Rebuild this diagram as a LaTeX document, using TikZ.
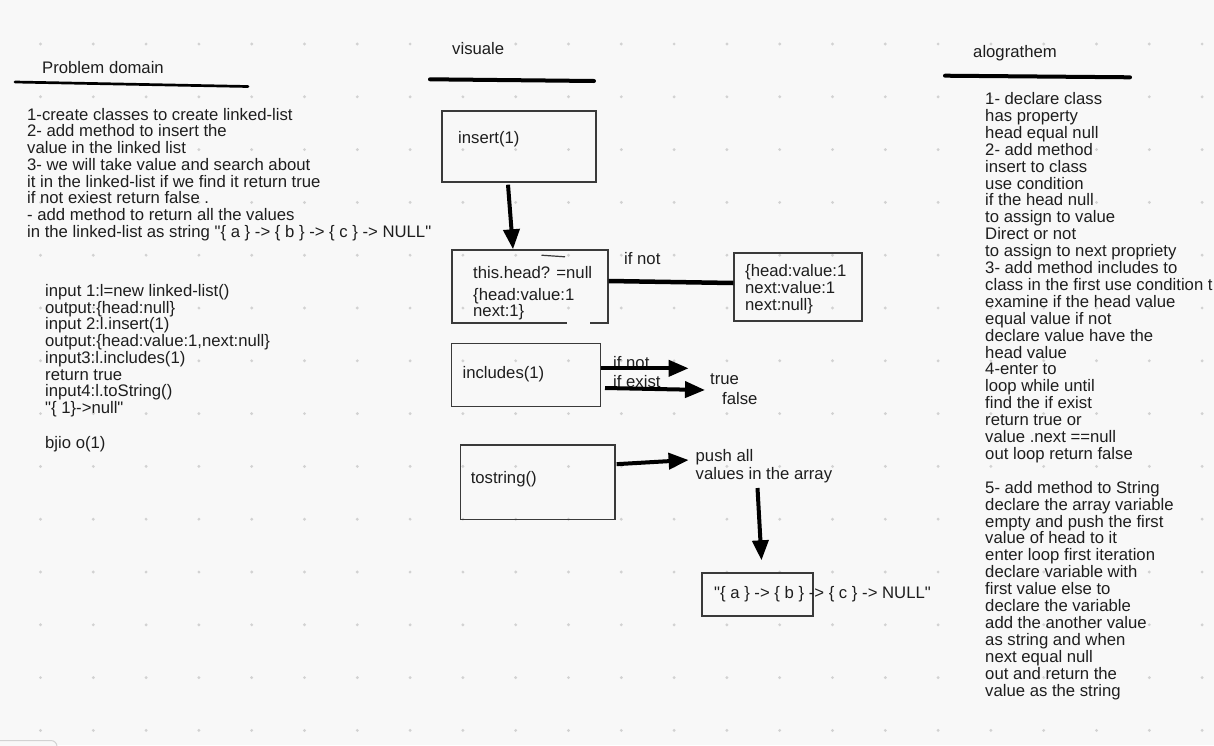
\documentclass[tikz,border=0pt]{standalone}
\usepackage{fontspec}
\setmainfont{Liberation Sans}[Ligatures=TeXOff]
\usetikzlibrary{arrows.meta}
\definecolor{bgc}{HTML}{F8F8F8}
\definecolor{dotc}{HTML}{D2D2D2}
\definecolor{boxc}{HTML}{3A3A3A}
\definecolor{txtc}{HTML}{1E1E1E}
\newcommand{\dq}{\char34\relax}
\tikzset{
  txt/.style={anchor=base west, inner sep=0pt, text=txtc, font=\fontsize{16.7}{19}\selectfont},
  box/.style={draw=boxc, line width=1.4pt, inner sep=0pt, rectangle},
  headline/.style={line width=4pt, line cap=round, draw=black},
  fatarrow/.style={line width=4pt, draw=black, -{Triangle[length=20pt,width=16pt]}},
  plainline/.style={line width=4.5pt, draw=black}
}
\begin{document}
\begin{tikzpicture}[x=1pt,y=-1pt]
\useasboundingbox (0,0) rectangle (1214,745);
\clip (0,0) rectangle (1214,745);
\fill[bgc] (0,0) rectangle (1214,745);
% dot grid
\foreach \r in {0,...,13}{
  \foreach \c in {0,...,22}{
    \fill[dotc] (40.5+52.8*\c, 44+52.8*\r) circle (1.6);
  }
}
% bottom-left partial element
\draw[dotc, line width=1pt, fill=bgc, rounded corners=6pt] (-6,740.5) rectangle (57,760);

% ---------- Problem domain ----------
\node[txt] (pdtitle) at (42,73) {Problem domain};
\draw[line width=2.7pt, line cap=round] (15,82) -- (248,86.5);
\foreach \t [count=\i from 0] in {
  {1-create classes to create linked-list},
  {2- add method to insert the},
  {value in the linked list},
  {3- we will take value and search about},
  {it in the linked-list if we find it return true},
  {if not exiest return false .},
  {- add method to return all the values},
  {in the linked-list as string \dq\{ a \} -> \{ b \} -> \{ c \} -> NULL\dq}
}{
  \node[txt] (pd\i) at (27,120+16.75*\i) {\t};
}
\foreach \t [count=\i from 0] in {
  {input 1:l=new linked-list()},
  {output:\{head:null\}},
  {input 2:l.insert(1)},
  {output:\{head:value:1,next:null\}},
  {input3:l.includes(1)},
  {return true},
  {input4:l.toString()},
  {\dq\{ 1\}->null\dq}
}{
  \node[txt] (io\i) at (45,296.5+16.7*\i) {\t};
}
\node[txt] (bjio) at (45,448.5) {bjio o(1)};

% ---------- visuale ----------
\node[txt] (vistitle) at (452,54) {visuale};
\draw[headline] (430,79.3) -- (594,81);

\node[box, minimum width=154pt, minimum height=71pt] (ins) at (519,146.5) {};
\node[txt] (instxt) at (458,143.5) {insert(1)};

\node[box, minimum width=156pt, minimum height=73pt] (head) at (530,286.5) {};
\draw[bgc, line width=2pt] (567,323) -- (590,323);
\draw[boxc, line width=1.2pt] (541.5,255.2) -- (565,256.8);
\node[txt] (headt1) at (473,278.5) {this.head? =null};
\node[txt] (headt2) at (473,300.5) {\{head:value:1};
\node[txt] (headt3) at (473,316.5) {next:1\}};

\node[box, minimum width=128pt, minimum height=68pt] (res) at (798,287) {};
\node[txt] (rest1) at (745,276.5) {\{head:value:1};
\node[txt] (rest2) at (745,293.5) {next:value:1};
\node[txt] (rest3) at (745,310.5) {next:null\}};

\draw[fatarrow] ([xshift=-11pt,yshift=-2pt]ins.south) -- ([xshift=-17pt]head.north);
\draw[plainline] ([yshift=5.5pt]head.east) -- ([yshift=4pt]res.west);
\node[txt] (ifnot1) at (624,264.5) {if not};

\node[box, minimum width=149pt, minimum height=63.4pt] (inc) at (526.25,375) {};
\node[txt] (inctxt) at (462.4,378) {includes(1)};
\node[txt] (ifnot2) at (613,368) {if not};
\node[txt] (ifexist) at (613,387) {if exist};
\coordinate (tnot) at (688.6,368.3);
\coordinate (texist) at (705,390);
\coordinate (sexist) at (605,388);
\draw[fatarrow] ([yshift=6.7pt]inc.east) -- (tnot);
\draw[fatarrow] (sexist) -- (texist);
\node[txt] (true) at (710,384) {true};
\node[txt] (false) at (722,404.5) {false};

\node[box, minimum width=154.3pt, minimum height=74.3pt] (tos) at (537.75,482.15) {};
\node[txt] (tostxt) at (470.6,483) {tostring()};
\node[txt] (push1) at (695.5,461.5) {push all};
\node[txt] (push2) at (695.5,479) {values in the array};
\coordinate (ptip) at (688.6,460);
\draw[fatarrow] ([xshift=1pt,yshift=18pt]tos.east) -- (ptip);

\node[box, minimum width=111pt, minimum height=43pt] (out) at (757.5,594.5) {};
\node[txt] (outtxt) at (714,598.5) {\dq\{ a \} -> \{ b \} -> \{ c \} -> NULL\dq};
\coordinate (dstart) at (757.5,488);
\draw[fatarrow] (dstart) -- ([xshift=4pt,yshift=12pt]out.north);

% ---------- alograthem ----------
\node[txt] (algtitle) at (973,57.5) {alograthem};
\draw[headline] (945,75.7) -- (1130,77.3);
\foreach \t [count=\i from 0] in {
  {1- declare class},
  {has property},
  {head equal null},
  {2- add method},
  {insert to class},
  {use condition},
  {if the head null},
  {to assign to value},
  {Direct or not},
  {to assign to next propriety},
  {3- add method includes to},
  {class in the first use condition t},
  {examine if the head value},
  {equal value if not},
  {declare value have the},
  {head value},
  {4-enter to},
  {loop while until},
  {find the if exist},
  {return true or},
  {value .next ==null},
  {out loop return false},
  {},
  {5- add method to String},
  {declare the array variable},
  {empty and push the first},
  {value of head to it},
  {enter loop first iteration},
  {declare variable with},
  {first value else to},
  {declare the variable},
  {add the another value},
  {as string and when},
  {next equal null},
  {out and return the},
  {value as the string}
}{
  \node[txt] (al\i) at (985,104.5+16.9*\i) {\t};
}
\end{tikzpicture}
\end{document}
